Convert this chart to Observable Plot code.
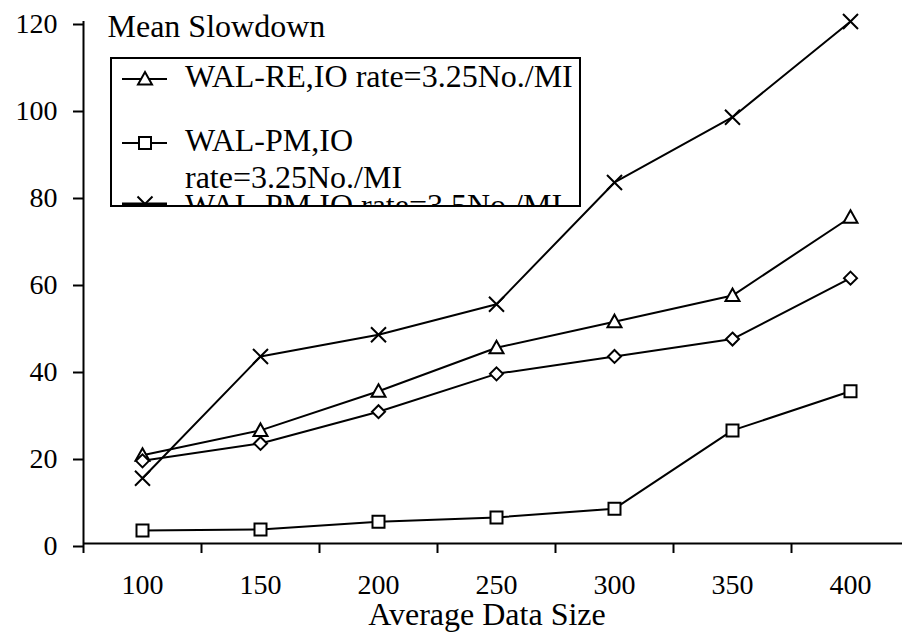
<!DOCTYPE html>
<html>
<head>
<meta charset="utf-8">
<script src="https://cdn.jsdelivr.net/npm/d3@7"></script>
<script src="https://cdn.jsdelivr.net/npm/@observablehq/plot@0.6"></script>
<style>
  body { margin: 0; background: #fff; }
  #chart { width: 902px; height: 633px; }
</style>
</head>
<body>
<div id="chart"></div>
<script>
// ---- data ----
const sizes = [100, 150, 200, 250, 300, 350, 400];
const walRE325 = [20.3, 26, 35, 45, 51, 57, 75];   // triangles
const walPM325 = [3, 3.2, 5, 6, 8, 26, 35];        // squares
const walPM35  = [15, 43, 48, 55, 83, 98, 120];    // crosses
const series4  = [19, 23, 30.3, 39, 43, 47, 61];   // diamonds (not in visible legend)
const yTicks = [0, 20, 40, 60, 80, 100, 120];
const xBoundaries = [75, 125, 175, 225, 275, 325, 375];
const legendLabels = ["WAL-RE,IO rate=3.25No./MI", "WAL-PM,IO rate=3.25No./MI", "WAL-PM,IO rate=3.5No./MI"];
const yTitle = "Mean Slowdown";
const xTitle = "Average Data Size";

// ---- symbols (fixed pixel size) ----
const triSym = {draw(c) { c.moveTo(0, -7); c.lineTo(7, 5.5); c.lineTo(-7, 5.5); c.closePath(); }};
const sqSym = {draw(c) { c.moveTo(-6, -6); c.lineTo(6, -6); c.lineTo(6, 6); c.lineTo(-6, 6); c.closePath(); }};
const diaSym = {draw(c) { c.moveTo(0, -6.5); c.lineTo(6.5, 0); c.lineTo(0, 6.5); c.lineTo(-6.5, 0); c.closePath(); }};
const crossSym = {draw(c) { c.moveTo(-7.5, -7.5); c.lineTo(7.5, 7.5); c.moveTo(7.5, -7.5); c.lineTo(-7.5, 7.5); }};

const series = [
  {name: legendLabels[0], values: walRE325, sym: triSym},
  {name: legendLabels[1], values: walPM325, sym: sqSym},
  {name: legendLabels[2], values: walPM35, sym: crossSym},
  {name: "series4", values: series4, sym: diaSym}
];

const font = "'Liberation Serif', 'Times New Roman', serif";
const marks = [
  Plot.ruleY([0], {stroke: "#000", strokeWidth: 2}),
  Plot.ruleX([75], {y1: 0, y2: 120, stroke: "#000", strokeWidth: 2}),
  Plot.ruleX(xBoundaries, {y1: 0, y2: -2.3, stroke: "#000", strokeWidth: 2}),
  Plot.axisY({ticks: yTicks, tickSize: 10, tickPadding: 16, fontSize: 28, strokeWidth: 2, label: null, dy: 3}),
  Plot.axisX({ticks: sizes, tickSize: 0, tickPadding: 31, fontSize: 28, label: null}),
  Plot.text([yTitle], {frameAnchor: "top-left", dx: 24, dy: -7, lineAnchor: "top", textAnchor: "start", fontSize: 32}),
  Plot.text([xTitle], {frameAnchor: "bottom", dx: -6, dy: 81, fontSize: 32})
];
for (const s of series) {
  const rows = sizes.map((x, i) => ({x, y: s.values[i]}));
  marks.push(Plot.line(rows, {x: "x", y: "y", stroke: "#000", strokeWidth: 2}));
}
for (const s of series) {
  const rows = sizes.map((x, i) => ({x, y: s.values[i]}));
  marks.push(Plot.dot(rows, {x: "x", y: "y", symbol: s.sym, r: 5, fill: "white", stroke: "#000", strokeWidth: 2}));
}

const svg = Plot.plot({
  width: 902, height: 633,
  marginLeft: 83, marginRight: 0, marginTop: 21, marginBottom: 90,
  x: {domain: [75, 75 + (902 - 83) / 2.36], axis: null},
  y: {domain: [0, 120], axis: null},
  style: {fontFamily: font, background: "white", color: "#000", overflow: "visible"},
  marks
});
document.getElementById("chart").appendChild(svg);

// ---- legend (inside the plot's svg) ----
const s = d3.select(svg);
const g = s.append("g").attr("font-family", font).attr("font-size", 32).attr("text-anchor", "start");
g.append("defs").append("clipPath").attr("id", "legclip")
  .append("rect").attr("x", 112).attr("y", 59).attr("width", 467).attr("height", 146);
g.append("rect").attr("x", 111).attr("y", 58).attr("width", 469).attr("height", 148)
  .attr("fill", "white").attr("stroke", "#000").attr("stroke-width", 2);
const inner = g.append("g").attr("clip-path", "url(#legclip)");
const rows = [
  {ly: 79, lines: [{t: "WAL-RE,IO rate=3.25No./MI", y: 87}], sym: triSym, sw: 2},
  {ly: 143, lines: [{t: "WAL-PM,IO", y: 151}, {t: "rate=3.25No./MI", y: 188}], sym: sqSym, sw: 2},
  {ly: 204, lines: [{t: "WAL-PM,IO rate=3.5No./MI", y: 216}], sym: crossSym, sw: 3}
];
for (const r of rows) {
  inner.append("line").attr("x1", 122).attr("x2", 167).attr("y1", r.ly).attr("y2", r.ly)
    .attr("stroke", "#000").attr("stroke-width", r.sw);
  const p = d3.path(); r.sym.draw(p);
  inner.append("path").attr("d", p.toString()).attr("transform", `translate(145,${r.ly})`)
    .attr("fill", "white").attr("stroke", "#000").attr("stroke-width", 2);
  for (const l of r.lines) {
    inner.append("text").attr("x", 185).attr("y", l.y).text(l.t);
  }
}
</script>
</body>
</html>
